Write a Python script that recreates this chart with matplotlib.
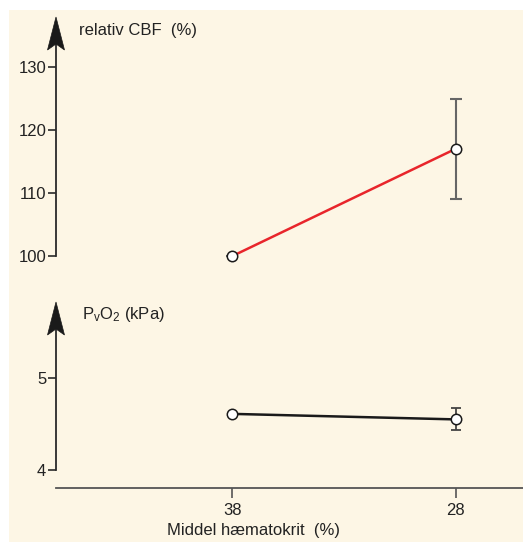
import matplotlib
matplotlib.use("Agg")
import matplotlib.pyplot as plt
from matplotlib.patches import Rectangle, Polygon

plt.rcParams['font.family'] = ['Liberation Sans', 'DejaVu Sans']
plt.rcParams['mathtext.default'] = 'regular'

# Data
categories = ["38", "28"]
cbf_values = [100, 117]
cbf_err = [0, 8]
pvo2_values = [4.61, 4.55]
pvo2_err = [0, 0.12]
cbf_ticks = [100, 110, 120, 130]
pvo2_ticks = [4, 5]

W, H = 523, 542
FS = 12
fig = plt.figure(figsize=(W / 100, H / 100), dpi=100)
fig.patch.set_facecolor('white')
fig.patches.append(Rectangle((9 / W, 0), 1 - 9 / W, 1 - 10 / H, transform=fig.transFigure,
                             facecolor='#fdf6e5', edgecolor='none', zorder=-10))

x_pos = list(range(len(categories)))
px0, pxstep = 232.5, 223.0
ax_left_px = 56
xlim = ((ax_left_px - px0) / pxstep, (W - px0) / pxstep)

def fig_rect(x0, y_top, x1, y_bot):
    return [x0 / W, 1 - y_bot / H, (x1 - x0) / W, (y_bot - y_top) / H]

axis_col = '#2a2a2a'

# Top axes
top_tip, top_base = 17, 256
ax1 = fig.add_axes(fig_rect(ax_left_px, top_tip, W, top_base))
ax1.set_facecolor('none')
ax1.set_xlim(*xlim)
ax1.set_ylim(100, 100 + (top_base - top_tip) / 6.3)
# Bottom axes
bot_tip, bot_axis = 302, 488
ax2 = fig.add_axes(fig_rect(ax_left_px, bot_tip, W, bot_axis))
ax2.set_facecolor('none')
ax2.set_xlim(*xlim)
ax2.set_ylim(4 - (bot_axis - 470) / 92.0, 4 + (470 - bot_tip) / 92.0)

for ax in (ax1, ax2):
    for s in ('top', 'right'):
        ax.spines[s].set_visible(False)
    ax.spines['left'].set_color(axis_col)
    ax.spines['left'].set_linewidth(1.3)
    ax.tick_params(axis='y', direction='out', length=6, width=1.2, color=axis_col,
                   labelsize=FS, labelcolor='#222222', pad=1)

ax1.spines['bottom'].set_visible(False)
ax1.set_xticks([])
ax1.set_yticks(cbf_ticks)
ax1.spines['left'].set_bounds(100, ax1.get_ylim()[1] - 3)

ax2.set_yticks(pvo2_ticks)
ax2.spines['left'].set_bounds(4, ax2.get_ylim()[1] - 0.3)
ax2.spines['bottom'].set_color('#555555')
ax2.spines['bottom'].set_linewidth(1.3)
ax2.set_xticks(x_pos)
ax2.set_xticklabels(categories)
ax2.tick_params(axis='x', direction='out', length=7.5, width=1.2, color='#555555',
                labelsize=FS, labelcolor='#222222', pad=3.5)
ax2.set_xlabel("Middel hæmatokrit  (%)", fontsize=FS, color='#222222')
ax2.xaxis.set_label_coords((253.5 - ax_left_px) / (W - ax_left_px), -(530 - bot_axis) / (bot_axis - bot_tip))
ax2.xaxis.label.set_va('center')

# Arrowheads (decoration)
def arrowhead(ax):
    trans = ax.transAxes
    pts_px = [(0, 0), (8.5, -33), (0, -27), (-8.5, -33)]
    bb = ax.get_position()
    pts = [(dx / (bb.width * W), 1 + dy / (bb.height * H)) for dx, dy in pts_px]
    ax.add_patch(Polygon(pts, closed=True, transform=trans, facecolor='#1a1a1a',
                         edgecolor='#1a1a1a', lw=0.5, clip_on=False, zorder=5))

arrowhead(ax1)
arrowhead(ax2)

# Data marks
ax1.errorbar(x_pos, cbf_values, yerr=cbf_err, fmt='none', ecolor='#666666',
             elinewidth=1.5, capsize=4.5, capthick=1.5, zorder=2)
ax1.plot(x_pos, cbf_values, color='#e8252b', lw=1.8, zorder=3)
ax1.plot(x_pos, cbf_values, 'o', ms=7.5, mfc='white', mec='#1a1a1a', mew=1.1,
         zorder=4, clip_on=False)

ax2.errorbar(x_pos, pvo2_values, yerr=pvo2_err, fmt='none', ecolor='#444444',
             elinewidth=1.3, capsize=3.5, capthick=1.3, zorder=2)
ax2.plot(x_pos, pvo2_values, color='#1a1a1a', lw=1.8, zorder=3)
ax2.plot(x_pos, pvo2_values, 'o', ms=7.5, mfc='white', mec='#1a1a1a', mew=1.1,
         zorder=4, clip_on=False)

# Axis titles
fig.text(79 / W, 1 - 30 / H, "relativ CBF  (%)", fontsize=FS, color='#222222',
         ha='left', va='center')
fig.text(82 / W, 1 - 315 / H, r"P$_{v}$O$_{2}$ (kPa)", fontsize=FS, color='#222222',
         ha='left', va='center')

fig.savefig("out.png", dpi=100, facecolor=fig.get_facecolor())
